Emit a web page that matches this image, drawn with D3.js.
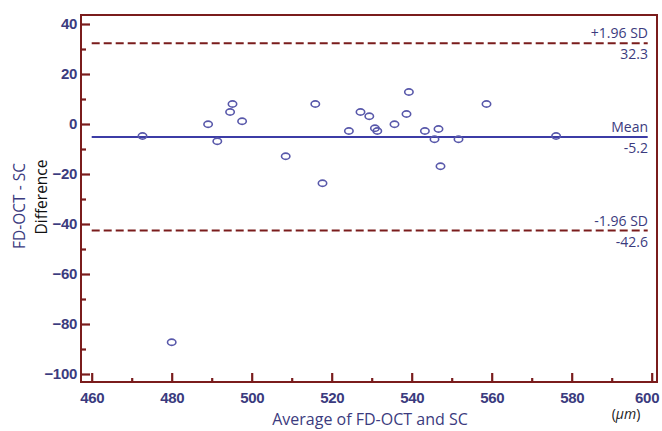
<!DOCTYPE html>
<html><head><meta charset="utf-8">
<script src="https://cdn.jsdelivr.net/npm/d3@7"></script>
<style>
body{margin:0;background:#fff;}
svg{display:block;font-family:"Open Sans","Noto Sans",sans-serif;}
</style></head>
<body><svg id="c" width="662" height="431"></svg>
<script>
// Data (Bland–Altman plot)
const avgValues = [472.7,489.1,491.4,494.6,495.2,497.6,508.5,515.9,517.7,480.0,
  524.3,527.2,529.4,530.8,531.4,535.7,538.7,539.3,543.3,545.7,546.7,547.2,551.7,558.7,576.1];
const diffValues = [-4.8,-0.1,-6.9,4.8,8.0,1.1,-12.9,8.0,-23.7,-87.3,
  -2.8,4.8,3.1,-1.7,-2.8,-0.1,4.0,12.8,-2.8,-6.1,-2.0,-16.9,-6.1,8.0,-4.8];
const meanDiff = -5.2;
const upperLoA = 32.3;
const lowerLoA = -42.6;
const xTicks = [460,480,500,520,540,560,580,600];
const yTicks = [-100,-80,-60,-40,-20,0,20,40];
const xLabel = "Average of FD-OCT and SC";
const unitLabel = ["(", "μm", ")"];
const yLabel1 = "FD-OCT - SC";
const yLabel2 = "Difference";

const red = "#7a1c1c", navy = "#3b3b7e", blue = "#3c3ca6", pt = "#5858aa";
const svg = d3.select("#c");
const x = d3.scaleLinear().domain([460,600]).range([91.7,651.7]);
const y = d3.scaleLinear().domain([-100,40]).range([374,24]);
const frame = {l:81, t:15, r:657, b:382};

// frame
svg.append("rect").attr("x",frame.l).attr("y",frame.t)
  .attr("width",frame.r-frame.l).attr("height",frame.b-frame.t)
  .attr("fill","none").attr("stroke",red).attr("stroke-width",2);

// left axis (ticks inward)
const gy = svg.append("g").attr("transform",`translate(${frame.l},0)`)
  .call(d3.axisLeft(y).tickValues(yTicks).tickSizeInner(-9).tickSizeOuter(0).tickPadding(4));
const gy2 = svg.append("g").attr("transform",`translate(${frame.l},0)`)
  .call(d3.axisLeft(y).tickValues(d3.range(-90,40,20)).tickSize(-5).tickFormat(""));
const gx = svg.append("g").attr("transform",`translate(0,${frame.b})`)
  .call(d3.axisBottom(x).tickValues(xTicks).tickSizeInner(-9).tickSizeOuter(0).tickPadding(10));
const gx2 = svg.append("g").attr("transform",`translate(0,${frame.b})`)
  .call(d3.axisBottom(x).tickValues(d3.range(470,600,20)).tickSize(-4).tickFormat(""));
[gy,gy2,gx,gx2].forEach(g=>{
  g.select(".domain").remove();
  g.selectAll(".tick line").attr("stroke",red).attr("stroke-width",2.2);
  g.selectAll(".tick text").attr("fill",navy).attr("font-size",15).attr("font-weight",600)
    .attr("font-family",null).attr("letter-spacing",-0.3);
});
// keep the last x label inside the picture, as in the reference
gx.selectAll(".tick text").filter(d=>d===600).attr("text-anchor","end").attr("dx",7);

// reference lines
const x0 = x(460), x1 = x(599);
svg.append("line").attr("x1",x0).attr("x2",x1).attr("y1",y(meanDiff)).attr("y2",y(meanDiff))
  .attr("stroke",blue).attr("stroke-width",1.8);
[upperLoA, lowerLoA].forEach(v=>{
  svg.append("line").attr("x1",x0).attr("x2",x1).attr("y1",y(v)).attr("y2",y(v))
    .attr("stroke",red).attr("stroke-width",2).attr("stroke-dasharray","8,4");
});
const labs = [["+1.96 SD", upperLoA.toFixed(1), upperLoA],["Mean", meanDiff.toFixed(1), meanDiff],["-1.96 SD", lowerLoA.toFixed(1), lowerLoA]];
labs.forEach(([a,b,v])=>{
  svg.append("text").attr("x",648).attr("y",y(v)-5).attr("text-anchor","end")
    .attr("fill",navy).attr("font-size",14).text(a);
  svg.append("text").attr("x",648).attr("y",y(v)+16).attr("text-anchor","end")
    .attr("fill",navy).attr("font-size",14).text(b);
});

// points
svg.append("g").selectAll("ellipse").data(avgValues.map((d,i)=>[d,diffValues[i]]))
  .join("ellipse").attr("cx",d=>x(d[0])).attr("cy",d=>y(d[1]))
  .attr("rx",4.2).attr("ry",3.1).attr("fill","none").attr("stroke",pt).attr("stroke-width",1.6);

// axis titles
svg.append("text").attr("x",370).attr("y",425).attr("text-anchor","middle")
  .attr("fill",navy).attr("font-size",16).text(xLabel);
const u = svg.append("text").attr("x",626).attr("y",419).attr("text-anchor","middle")
  .attr("fill","#222").attr("font-size",14);
u.append("tspan").text(unitLabel[0]);
u.append("tspan").attr("font-style","italic").text(unitLabel[1]);
u.append("tspan").text(unitLabel[2]);
svg.append("text").attr("transform","translate(25,206) rotate(-90)").attr("text-anchor","middle")
  .attr("fill",navy).attr("font-size",15.5).text(yLabel1);
svg.append("text").attr("transform","translate(47,197) rotate(-90)").attr("text-anchor","middle")
  .attr("fill","#111").attr("font-size",15.5).text(yLabel2);
</script></body></html>
